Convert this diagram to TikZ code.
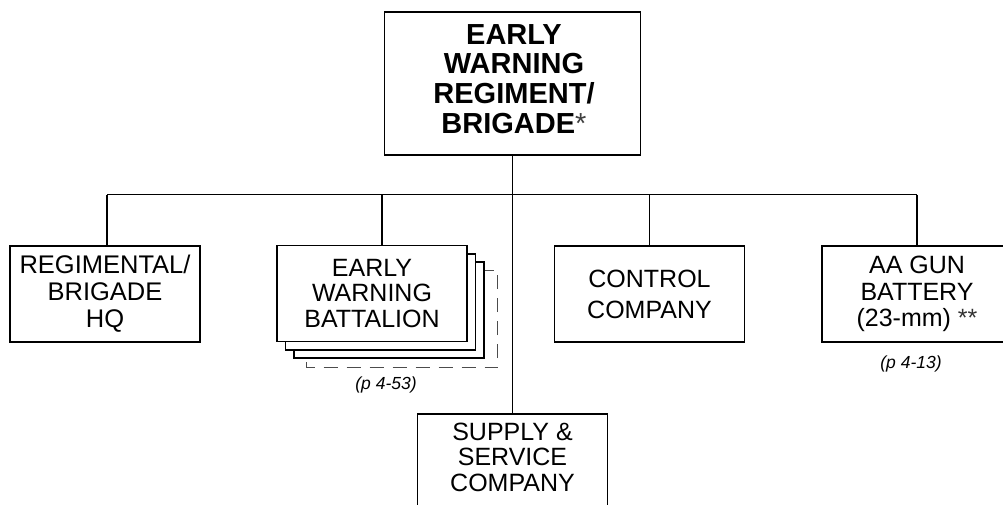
\documentclass[tikz,border=0pt]{standalone}
\usepackage{fontspec}
\setmainfont{Liberation Sans}
\begin{document}
\begin{tikzpicture}[x=1pt,y=-1pt,
  line width=1.6pt,
  unitbox/.style={draw, fill=white, minimum width=190pt, minimum height=96pt, inner sep=0pt, align=center,
    font=\fontsize{25}{25.5}\selectfont},
  backbox/.style={draw, fill=white, minimum width=190pt, minimum height=96pt, inner sep=0pt},
  unittext/.style={inner sep=0pt, align=center, font=\fontsize{25}{25.5}\selectfont},
  headbox/.style={draw, fill=white, minimum width=256pt, minimum height=143pt, inner sep=0pt},
  headtext/.style={inner sep=0pt, align=center, font=\fontsize{29}{29.7}\selectfont\bfseries},
  ref/.style={font=\fontsize{17.5}{20}\selectfont\itshape},
  link/.style={draw, line width=1.6pt}]
\useasboundingbox (0,0) rectangle (1003,504);
\clip (0,0) rectangle (1003,504);
% top
\node[headbox] (top) at (512.5,83.5) {};
\node[headtext] (toptext) at (514,79) {EARLY\\WARNING\\REGIMENT/\\BRIGADE{\mdseries\color{black!75}*}};
% bus
\coordinate (busL) at (107,194.5);
\coordinate (busR) at (917,194.5);
\draw[link] (busL) -- (busR);
% HQ
\node[unitbox, font=\fontsize{25.5}{27}\selectfont] (hq) at (105,294) {REGIMENTAL/\\BRIGADE\\HQ};
\coordinate (hqTop) at (107,246);
\draw[link] (busL) -- (hqTop);
% battalion stack
\node[backbox, draw=none, fill=none] (bd) at (402,319) {};
\draw[line width=1.2pt, dash pattern=on 14pt off 9pt, black!70] (bd.north west) rectangle (bd.south east);
\node[backbox] (b3) at (389,310) {};
\node[backbox] (b2) at (380.5,302) {};
\node[unitbox] (bat) at (372,293.5) {EARLY\\WARNING\\BATTALION};
\coordinate (batDrop) at (382,194.5);
\draw[link] (batDrop) -- (batDrop |- bat.north);
\node[ref] (r1) at (386,385) {(p 4-53)};
% control
\node[unitbox, font=\fontsize{25}{31}\selectfont] (ctl) at (649.5,294) {CONTROL\\COMPANY};
\coordinate (ctlDrop) at (649.5,194.5);
\draw[link] (ctlDrop) -- (ctl.north);
% AA
\node[unitbox, font=\fontsize{25}{26.5}\selectfont] (aa) at (917,294) {AA GUN\\BATTERY\\(23-mm) {\color{black!80}**}};
\draw[link] (busR) -- (aa.north);
\node[ref] (r2) at (911,364) {(p 4-13)};
% supply
\node[backbox, anchor=north] (sup) at (512.5,413) {};
\node[unittext] (suptext) at (512.5,457) {SUPPLY \&\\SERVICE\\COMPANY};
\draw[link] (top.south) -- (sup.north);
\end{tikzpicture}
\end{document}
